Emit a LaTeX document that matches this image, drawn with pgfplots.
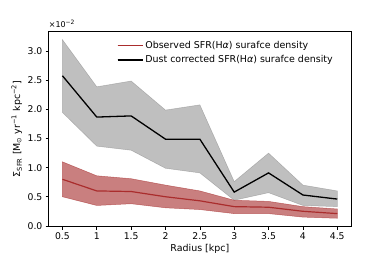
\documentclass[border=0pt]{standalone}
\usepackage{pgfplots}
\pgfplotsset{compat=1.18}
\usepackage{fontspec}
\setmainfont{DejaVu Sans}
\definecolor{redline}{RGB}{170,45,45}
\definecolor{redfill}{RGB}{165,42,42}
\definecolor{redleg}{RGB}{222,80,80}
\pgfplotstableread{
x   g    r
0.5 2.58 0.80
1.0 1.87 0.60
1.5 1.89 0.59
2.0 1.49 0.50
2.5 1.49 0.43
3.0 0.58 0.33
3.5 0.91 0.32
4.0 0.53 0.25
4.5 0.46 0.21
}\linetable
\pgfplotstableread{
x   y
0.5 3.20
1.0 2.39
1.5 2.49
2.0 1.99
2.5 2.08
3.0 0.76
3.5 1.25
4.0 0.70
4.5 0.60
4.5 0.33
4.0 0.35
3.5 0.57
3.0 0.44
2.5 0.91
2.0 0.99
1.5 1.30
1.0 1.37
0.5 1.95
}\grayband
\pgfplotstableread{
x   y
0.5 1.10
1.0 0.86
1.5 0.81
2.0 0.70
2.5 0.60
3.0 0.44
3.5 0.42
4.0 0.33
4.5 0.29
4.5 0.13
4.0 0.15
3.5 0.21
3.0 0.21
2.5 0.28
2.0 0.31
1.5 0.38
1.0 0.35
0.5 0.50
}\redband
\begin{document}
\fontsize{9.5}{11}\selectfont
\begin{tikzpicture}
\useasboundingbox (0bp,0bp) rectangle (390bp,260bp);
\begin{axis}[
  at={(48.7bp,33.3bp)}, anchor=south west,
  scale only axis, width=302.3bp, height=195.7bp,
  xmin=0.3, xmax=4.7, ymin=-0.015, ymax=3.35,
  xtick={0.5,1,1.5,2,2.5,3,3.5,4,4.5},
  xticklabels={0.5,1,1.5,2,2.5,3,3.5,4,4.5},
  ytick={0,0.5,1,1.5,2,2.5,3},
  yticklabels={0.0,0.5,1.0,1.5,2.0,2.5,3.0},
  tick align=outside, tick pos=left,
  major tick length=3bp,
  tick style={black, line width=0.6bp},
  axis line style={line width=0.6bp},
  ticklabel style={font=\fontsize{9.3}{11}\selectfont},
  xlabel={Radius [kpc]},
  ylabel={Σ\textsubscript{SFR} [M\textsubscript{⊙} yr\textsuperscript{−1} kpc\textsuperscript{−2}]},
  label style={font=\fontsize{9.5}{11}\selectfont},
  xlabel style={yshift=2bp},
  ylabel style={yshift=-1bp},
  legend style={draw=none, fill=none, at={(0.2155,0.969)}, anchor=north west,
    font=\fontsize{9.5}{11}\selectfont, row sep=1.8bp},
  legend cell align=left,
]
\addplot[fill=gray, fill opacity=0.5, draw=gray, draw opacity=0.5, line width=0.5bp, forget plot] table[x=x,y=y]{\grayband} --cycle;
\addplot[fill=redfill, fill opacity=0.6, draw=redfill, draw opacity=0.6, line width=0.5bp, forget plot] table[x=x,y=y]{\redband} --cycle;
\addplot[color=redline, line width=1.2bp,
  legend image code/.code={\draw[color=redleg, line width=1.1bp] (0bp,0bp) -- (20bp,0bp); \path (0bp,0bp) -- (25bp,0bp);}]
  table[x=x,y=r]{\linetable};
\addlegendentry{Observed SFR(H\textit{α}) surafce density}
\addplot[color=black, line width=1.3bp,
  legend image code/.code={\draw[color=black, line width=1.3bp] (0bp,0bp) -- (20bp,0bp); \path (0bp,0bp) -- (25bp,0bp);}]
  table[x=x,y=g]{\linetable};
\addlegendentry{Dust corrected SFR(H\textit{α}) surafce density}
\end{axis}
\node[anchor=south west, inner sep=0pt, font=\fontsize{8}{10}\selectfont] at (48.7bp,232bp) {×10\textsuperscript{−2}};
\end{tikzpicture}
\end{document}
